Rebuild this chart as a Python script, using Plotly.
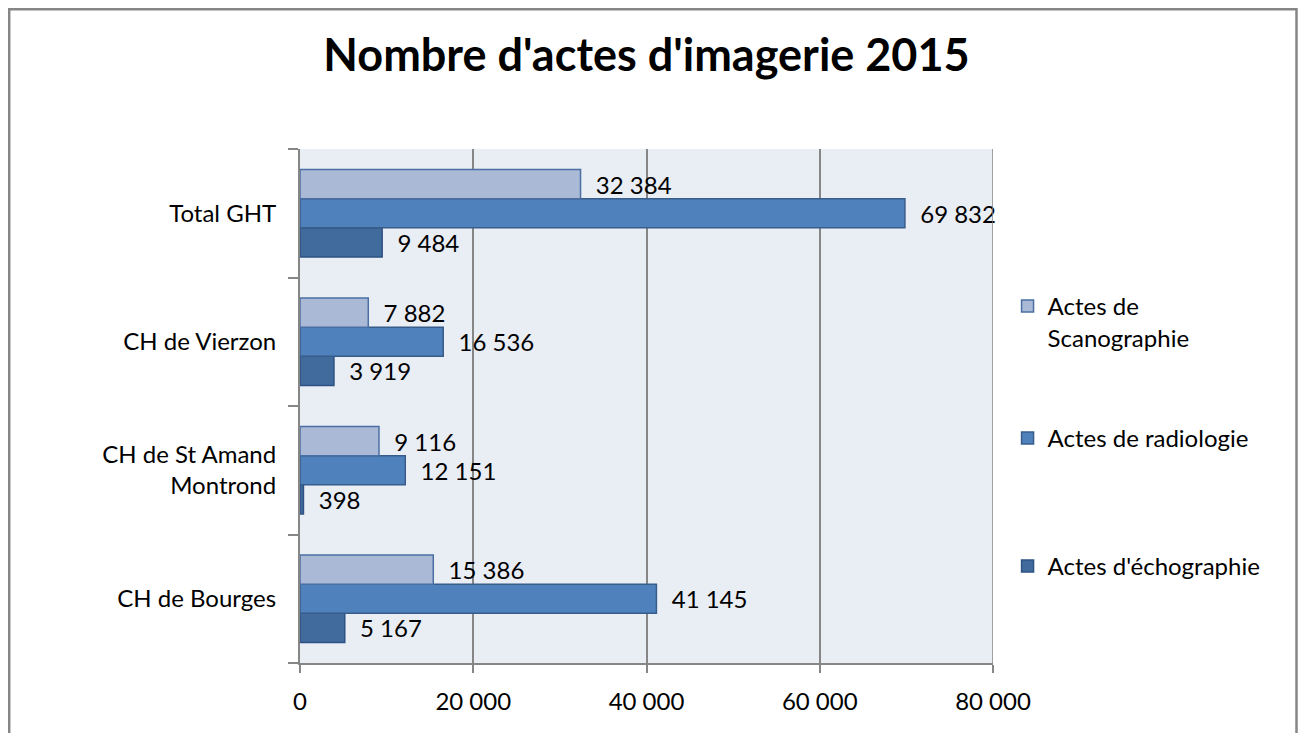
import plotly.graph_objects as go

categories = ["CH de Bourges", "CH de St Amand<br>Montrond", "CH de Vierzon", "Total GHT"]
scanographie = [15386, 9116, 7882, 32384]
radiologie = [41145, 12151, 16536, 69832]
echographie = [5167, 398, 3919, 9484]
series_names = ["Actes de<br>Scanographie", "Actes de radiologie", "Actes d'échographie"]
x_ticks = [0, 20000, 40000, 60000, 80000]

FONT = "Lato"
FS = 24

def fmt(v):
    return f"{v:,}".replace(",", " ")

fig = go.Figure()
specs = [
    (series_names[2], echographie, "#416B9D", "#2E5283", "legend3"),
    (series_names[1], radiologie, "#4F81BD", "#385D8A", "legend2"),
    (series_names[0], scanographie, "#AAB9D6", "#4A6FA2", "legend"),
]
for name, vals, fill, line, leg in specs:
    fig.add_trace(go.Bar(
        y=categories, x=vals, name=name, orientation="h",
        marker=dict(color=fill, line=dict(color=line, width=1.5)),
        text=["\u00a0\u00a0" + fmt(v) for v in vals],
        textposition="outside", cliponaxis=False, constraintext="none",
        textfont=dict(family=FONT, size=FS, color="black"),
        legend=leg,
    ))

W, H = 1290, 725
PL, PT, PW, PH = 292, 141, 693, 514
PB = PT + PH

def legend_at(top_px):
    return dict(x=1.021, y=(PB - top_px) / PH, xanchor="left", yanchor="top",
                valign="top", font=dict(family=FONT, size=FS, color="black"),
                bgcolor="rgba(0,0,0,0)")

fig.update_layout(
    width=W, height=H,
    margin=dict(l=PL, r=W - PL - PW, t=PT, b=H - PB),
    paper_bgcolor="white", plot_bgcolor="#E9EDF4",
    barmode="group", bargap=0.32, bargroupgap=0,
    font=dict(family=FONT, size=FS, color="black"),
    title=dict(text="<b>Nombre d'actes d'imagerie 2015</b>", x=0.5, xref="paper",
               xanchor="center", y=(H - 47) / H, yanchor="middle",
               font=dict(family=FONT, size=45, color="black")),
    showlegend=True,
    legend=legend_at(276),
    legend2=legend_at(408),
    legend3=legend_at(536),
)

fig.update_xaxes(range=[0, 80000], tickvals=x_ticks, ticktext=[fmt(v) for v in x_ticks],
                 showgrid=True, gridcolor="#868686", gridwidth=1.5,
                 showline=True, linecolor="#868686", linewidth=2,
                 ticks="outside", ticklen=8, tickcolor="#868686", tickwidth=2,
                 ticklabelstandoff=8, zeroline=False,
                 tickfont=dict(family=FONT, size=FS, color="black"))
fig.update_yaxes(showgrid=False, showline=True, linecolor="#868686", linewidth=2,
                 ticks="outside", tickson="boundaries", ticklen=10, tickcolor="#868686",
                 tickwidth=2, ticklabelstandoff=17,
                 tickfont=dict(family=FONT, size=FS, color="black"))

fig.add_shape(type="line", xref="x", yref="paper", x0=80000, x1=80000, y0=0, y1=1,
              line=dict(color="#868686", width=1.5))
# outer chart border
fig.add_shape(type="rect", xref="paper", yref="paper",
              x0=(1.2 - PL) / PW, x1=(W - 1.5 - PL) / PW,
              y0=(PB - 760) / PH, y1=(PB - 1.2) / PH,
              line=dict(color="#868686", width=2.5), fillcolor="rgba(0,0,0,0)")

fig.write_html("out.html")
